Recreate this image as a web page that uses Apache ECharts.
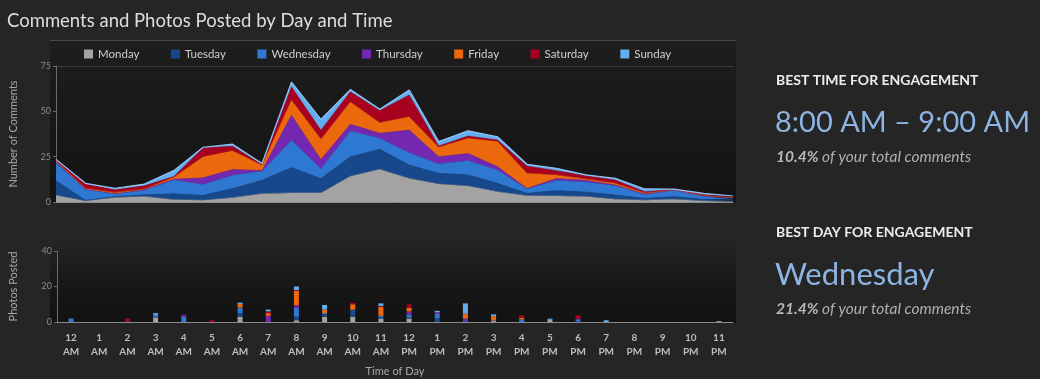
<!DOCTYPE html>
<html><head><meta charset="utf-8">
<script src="https://cdn.jsdelivr.net/npm/echarts@6/dist/echarts.min.js"></script>
<style>html,body{margin:0;padding:0;background:#252525;}#c{width:1040px;height:379px;}</style>
</head><body><div id="c"></div>
<script>
var hours = ['12\nAM','1\nAM','2\nAM','3\nAM','4\nAM','5\nAM','6\nAM','7\nAM','8\nAM','9\nAM','10\nAM','11\nAM',
             '12\nPM','1\nPM','2\nPM','3\nPM','4\nPM','5\nPM','6\nPM','7\nPM','8\nPM','9\nPM','10\nPM','11\nPM'];
var days = ['Monday','Tuesday','Wednesday','Thursday','Friday','Saturday','Sunday'];
var dayColors = ['#a3a3a3','#17488c','#2f78d2','#7427b0','#ec680c','#a8001f','#62aeee'];

// Number of comments per hour (stacked areas)
var cMon = [3.7,0.5,2.5,3,1.3,0.9,2.4,4.6,5,5,14.2,18,13,9.9,8.8,5.7,3.5,3.3,3,1.5,1,1.5,0.5,0.3];
var cTue = [8,0.5,0.5,1,3.3,2.8,5,7.4,14,7.9,10.7,11.1,7.4,5.9,6.1,4.6,1.3,3,2.5,2.4,1,1.5,1,0.5];
var cWed = [10,6,1.4,2.5,7.5,5.9,7.3,4.9,15.1,5.5,14.3,6,6.8,5.2,7.9,7.3,2.4,5.5,5.5,5,2.2,3.5,1.5,0.7];
var cThu = [0.5,0,0.1,0.2,0.5,3.8,3.2,0.5,13.8,5,3.7,2.8,12.5,4,4,1.9,0.3,1.2,1,0.5,0.2,0.1,0.5,0.8];
var cFri = [0.5,0.5,0.8,0.4,1,11.5,10.3,2.8,8.3,11.2,12.3,5.8,7.3,5.2,8.3,13.8,8.3,1.9,0.7,0.9,0.6,0.1,0.2,0.1];
var cSat = [0.3,2.5,1.5,1.8,0.4,5,2.6,0.5,7.3,5,5.6,6.7,12,0.7,1.3,0.9,4.1,2.4,1.8,1.8,0.7,0.2,0.5,0.2];
var cSun = [0.5,0.3,0.7,1,3.3,0.3,1.1,0.5,2.6,5.9,1.2,0.7,2.8,2.4,2.8,1.8,0.9,1.3,0.5,0.9,1.5,0.2,0.6,0.7];

// Photos posted per hour (stacked bars)
var pMon = [0,0,0,2.5,0,0,3,0,1,3,3,2,2,0,0,0.5,0,1.2,0,0,0,0,0,0.5];
var pTue = [0,0,0,0,0,0,2,0,2,1.5,3.5,0.5,0.5,2,0,0,0,0,0.5,0,0,0,0,0];
var pWed = [2,0,0,1.5,3,0,3.1,0,5,0.5,0.5,1,1.5,2.5,0.4,0.3,1.5,0,1,0,0,0,0,0];
var pThu = [0,0,0,0,1,0,0,3.5,1.5,0,0,0,2,1,1.5,0,0,0,0.3,0,0,0,0,0];
var pFri = [0,0,0,0,0,0,2,1.5,8,2,3,5,2,0,2.8,2.5,1,0,0,0,0,0,0,0];
var pSat = [0,0,2,0,0,1,0,1,0.5,0,0.8,0.5,2,0,0,0,1.3,0,2,0,0,0,0,0];
var pSun = [0,0,0,1,0,0,0.8,1,2,2.6,0,1.5,0,0.8,5.8,1,0,0.7,0,1,0,0,0,0];

var commentTicks = [0,25,50,75];
var photoTicks = [0,20,40];

var FONT = 'Lato';
var comments = [cMon,cTue,cWed,cThu,cFri,cSat,cSun];
var photos = [pMon,pTue,pWed,pThu,pFri,pSat,pSun];

var series = [];
days.forEach(function(d,i){
  series.push({
    name:d, type:'line', stack:'c', xAxisIndex:0, yAxisIndex:0,
    data:comments[i], showSymbol:false, symbol:'none',
    lineStyle:{width:i===6?1.2:0.5,color:i===6?'#8cc6f5':dayColors[i]},
    areaStyle:{color:dayColors[i],opacity:1},
    itemStyle:{color:dayColors[i]}, z:2
  });
});
days.forEach(function(d,i){
  series.push({
    name:d, type:'bar', stack:'p', xAxisIndex:1, yAxisIndex:1,
    data:photos[i], barWidth:5, itemStyle:{color:dayColors[i]}
  });
});

var chart = echarts.init(document.getElementById('c'));
chart.setOption({
  backgroundColor:'#252525',
  animation:false,
  title:{text:'Comments and Photos Posted by Day and Time',left:2,top:7,
    textStyle:{color:'#dedede',fontSize:18.5,fontWeight:'normal',fontFamily:FONT}},
  legend:{data:days,left:79,top:43,itemWidth:9,itemHeight:9,itemGap:31.5,icon:'rect',
    textStyle:{color:'#cfcfcf',fontSize:11.5,fontFamily:FONT}},
  graphic:[
    {type:'rect',z:-10,shape:{x:50,y:40,width:686,height:163},
      style:{fill:new echarts.graphic.LinearGradient(0,0,0,1,[{offset:0,color:'#1e1e1e'},{offset:1,color:'#131313'}])}},
    {type:'rect',z:-10,shape:{x:50,y:237,width:686,height:86},
      style:{fill:new echarts.graphic.LinearGradient(0,0,0,1,[{offset:0,color:'#262626'},{offset:0.5,color:'#181818'},{offset:1,color:'#121212'}])}},
    {type:'line',z:-5,shape:{x1:50,y1:40.5,x2:736,y2:40.5},style:{stroke:'#4a4a4a',lineWidth:1}},
    {type:'line',z:-5,shape:{x1:54,y1:66.5,x2:734,y2:66.5},style:{stroke:'#3a3a3a',lineWidth:1}},
    {type:'text',left:776,top:73,style:{text:'BEST TIME FOR ENGAGEMENT',fill:'#ececec',font:'bold 14px '+FONT}},
    {type:'text',left:775,top:108,style:{text:'8:00 AM \u2013 9:00 AM',fill:'#8db4e3',font:'29px '+FONT}},
    {type:'text',left:776,top:149,style:{rich:{b:{fill:'#b8b8b8',font:'italic bold 15.5px '+FONT},n:{fill:'#b0b0b0',font:'italic 15.5px '+FONT}},
      text:'{b|10.4%}{n| of your total comments}'}},
    {type:'text',left:776,top:225,style:{text:'BEST DAY FOR ENGAGEMENT',fill:'#ececec',font:'bold 14px '+FONT}},
    {type:'text',left:775,top:259,style:{text:'Wednesday',fill:'#8db4e3',font:'31px '+FONT}},
    {type:'text',left:776,top:301,style:{rich:{b:{fill:'#b8b8b8',font:'italic bold 15.5px '+FONT},n:{fill:'#b0b0b0',font:'italic 15.5px '+FONT}},
      text:'{b|21.4%}{n| of your total comments}'}}
  ],
  grid:[
    {left:55,right:307,top:66,bottom:177},
    {left:55,right:307,top:251,bottom:57}
  ],
  xAxis:[
    {type:'category',gridIndex:0,data:hours,boundaryGap:false,
      axisLine:{lineStyle:{color:'#8a8a8a'}},axisTick:{show:false},axisLabel:{show:false},splitLine:{show:false}},
    {type:'category',gridIndex:1,data:hours,boundaryGap:true,
      axisLine:{lineStyle:{color:'#8a8a8a'}},axisTick:{show:false},
      axisLabel:{color:'#bdbdbd',fontSize:10,fontWeight:'bold',fontFamily:FONT,lineHeight:14,margin:9,interval:0},
      name:'Time of Day',nameLocation:'middle',nameGap:44,
      nameTextStyle:{color:'#a8a8a8',fontSize:11,fontFamily:FONT}}
  ],
  yAxis:[
    {type:'value',gridIndex:0,min:commentTicks[0],max:commentTicks[commentTicks.length-1],interval:25,
      axisLine:{show:true,lineStyle:{color:'#6a6a6a'}},axisTick:{show:true,length:3,lineStyle:{color:'#6a6a6a'}},
      axisLabel:{color:'#8c8c8c',fontSize:9,fontFamily:FONT,margin:5},splitLine:{show:false},
      name:'Number of Comments',nameLocation:'middle',nameRotate:90,nameGap:37,
      nameTextStyle:{color:'#a8a8a8',fontSize:11,fontFamily:FONT}},
    {type:'value',gridIndex:1,min:photoTicks[0],max:photoTicks[photoTicks.length-1],interval:20,
      axisLine:{show:true,lineStyle:{color:'#6a6a6a'}},axisTick:{show:true,length:3,lineStyle:{color:'#6a6a6a'}},
      axisLabel:{color:'#8c8c8c',fontSize:9,fontFamily:FONT,margin:5},splitLine:{show:false},
      name:'Photos Posted',nameLocation:'middle',nameRotate:90,nameGap:38,
      nameTextStyle:{color:'#a8a8a8',fontSize:11,fontFamily:FONT}}
  ],
  series:series
});
</script></body></html>
